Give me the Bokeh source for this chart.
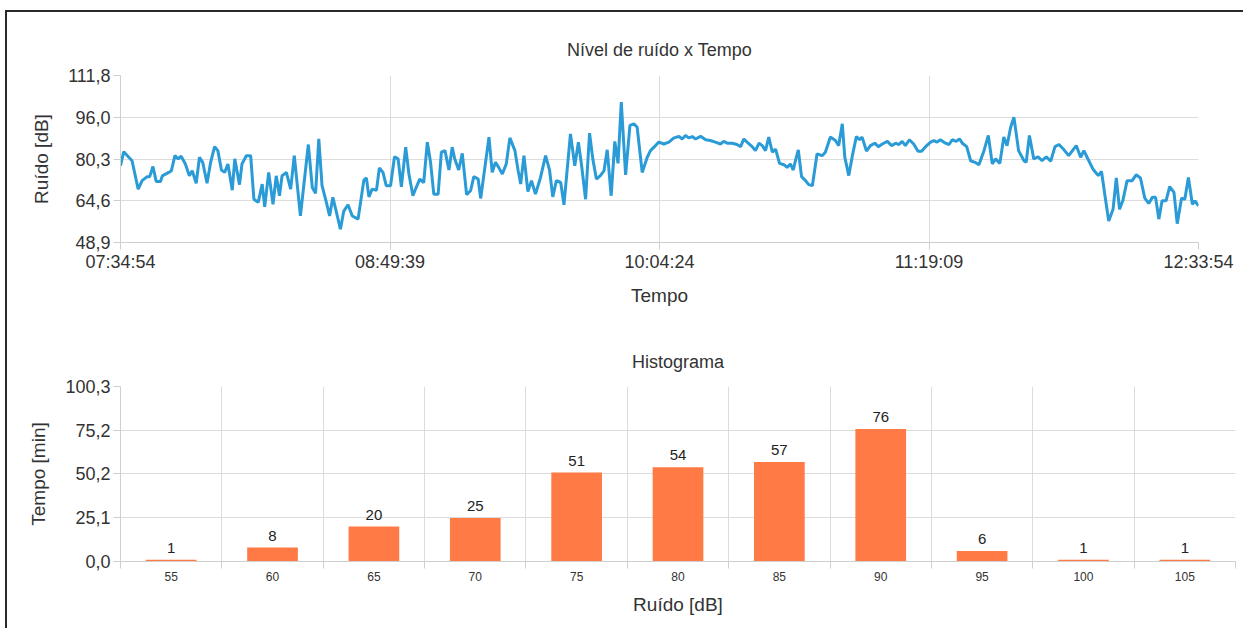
from bokeh.plotting import figure
from bokeh.layouts import column, row
from bokeh.models import FixedTicker, Range1d, ColumnDataSource
from bokeh.core.properties import value
from bokeh.embed import file_html
from bokeh.resources import INLINE

# ---------------- data ----------------
time_tick_minutes = [0, 74.75, 149.5, 224.25, 299]
time_tick_labels = ["07:34:54", "08:49:39", "10:04:24", "11:19:09", "12:33:54"]

elapsed_min = [
    0.0, 0.9, 2.3, 3.2, 4.9, 6.0, 7.4, 8.1, 9.0, 9.9, 11.1, 11.6, 13.4, 14.1, 15.1, 16.0, 16.8, 18.0,
    19.1, 19.9, 21.0, 21.9, 22.8, 24.0, 25.0, 26.1, 27.0, 28.0, 28.9, 29.8, 31.0, 31.7, 33.0, 33.7,
    34.9, 36.1, 37.0, 38.2, 39.3, 40.0, 41.1, 42.3, 43.2, 44.1, 44.8, 46.0, 47.2, 48.2,
    49.9, 52.1, 53.2, 54.1, 55.0, 55.9, 57.0, 58.0, 58.9, 59.8, 61.0, 61.9, 63.1, 64.3, 65.9, 67.5,
    68.2, 68.9, 69.8, 71.0, 71.8, 72.8, 73.7, 74.9, 76.0, 77.0, 77.9, 79.1, 80.0, 81.1, 82.0, 83.0,
    84.1, 85.1, 86.0, 86.9, 88.1, 89.0, 90.0, 91.1, 92.0, 92.7, 93.8, 94.8, 96.0, 97.1, 98.0, 99.2, 99.9,
    102.2, 103.1, 104.0, 104.9, 105.9, 107.0, 108.0, 109.4, 110.3, 111.0, 111.9, 113.0, 114.0, 115.1,
    116.5, 117.9, 119.0, 119.9, 120.9, 122.1, 123.0, 124.8, 126.0, 127.0, 127.9, 129.0, 130.1, 131.0,
    132.0, 133.1, 134.1, 135.0, 136.1, 137.1, 138.0, 138.9, 140.1, 141.3, 142.4, 143.3, 144.7, 146.1,
    147.0, 148.4,
    149.3, 150.7, 152.1, 153.5, 154.9, 155.8, 156.7, 157.6, 158.6, 159.5, 160.9, 162.3, 163.6, 165.0,
    166.4, 167.3, 168.3, 169.7, 171.0, 172.0, 172.9, 174.1, 175.2, 176.1, 177.1, 178.0, 178.9, 179.8,
    180.8, 181.7, 182.8, 184.0, 184.9, 185.8, 186.6, 187.2, 188.0, 188.9, 190.0, 190.9, 191.9, 193.2,
    194.6, 195.5, 196.9, 198.3,
    199.2, 200.2, 200.9, 202.0, 203.1, 204.1, 205.0, 205.7, 206.9, 208.0, 209.2, 210.2, 211.3, 212.7,
    213.9, 215.0, 215.9, 216.8, 217.7, 218.8, 220.0, 221.2, 222.2, 223.3, 224.7, 225.6, 226.5, 227.4,
    228.8, 229.8, 230.7, 231.8, 232.7, 233.5, 234.7, 235.8, 237.0, 238.1, 239.5, 240.7, 241.8, 242.7,
    243.9, 245.0, 245.9, 246.9, 247.8, 249.1,
    250.6, 251.2, 252.1, 253.3, 254.5, 255.6, 256.8, 258.0, 259.2, 260.3, 261.7, 263.0, 264.2, 265.1,
    266.3, 267.2, 268.1, 269.7, 271.2, 272.1, 273.0, 274.1, 275.3, 276.2, 277.1, 278.0, 279.2, 280.6,
    281.7, 282.9, 284.1, 285.2, 286.2, 287.1, 288.0, 288.9, 290.0, 291.0, 292.2, 293.1, 294.3, 295.2,
    296.2, 297.3, 298.0, 299.0,
]

noise_db = [
    77.8, 83.1, 81.0, 79.7, 69.0, 72.2, 73.7, 73.7, 77.5, 71.9, 71.9, 74.0, 75.3, 75.9, 81.6, 80.4, 81.4, 78.5,
    74.0, 75.9, 71.2, 81.0, 79.1, 71.2, 79.1, 85.0, 83.5, 76.2, 75.3, 78.5, 68.6, 80.4, 70.7, 78.5,
    81.6, 81.6, 65.2, 64.0, 70.9, 62.3, 75.3, 63.3, 74.0, 66.5, 74.0, 75.3, 69.0, 81.6,
    58.9, 85.8, 69.6, 67.4, 87.9, 70.3, 64.6, 58.9, 65.9, 60.8, 53.9, 60.6, 63.1, 58.9, 57.7, 72.4,
    73.2, 66.1, 69.0, 68.6, 77.0, 75.3, 70.3, 70.3, 81.2, 80.4, 69.9, 84.8, 74.7, 66.5, 69.6, 72.8,
    71.5, 86.7, 79.1, 67.1, 67.1, 82.9, 83.5, 76.2, 84.8, 80.4, 76.2, 82.5, 66.9, 68.4, 73.7, 72.8, 65.5,
    88.6, 75.3, 79.1, 77.2, 74.7, 78.5, 88.3, 83.5, 75.9, 70.9, 81.6, 68.1, 72.2, 67.1,
    73.4, 81.6, 76.2, 66.1, 72.2, 71.5, 63.1, 89.8, 77.8, 86.7, 77.8, 65.2, 90.1, 80.4,
    72.8, 74.1, 75.9, 83.8, 66.5, 87.0, 78.7, 101.8, 74.4, 93.0, 93.6, 92.3, 75.3, 81.0,
    83.5, 85.4,
    86.7, 86.0, 86.7, 88.3, 88.8, 87.9, 89.2, 88.3, 88.8, 87.9, 88.9, 87.6, 87.3, 86.7,
    86.0, 87.0, 86.3, 86.3, 85.8, 85.0, 87.9, 86.3, 85.0, 83.5, 86.3, 85.4, 83.5, 88.6,
    82.9, 84.1, 78.7, 78.2, 77.2, 78.5, 76.2, 79.7, 83.8, 73.7, 72.2, 70.7, 70.3, 82.3,
    81.6, 82.9, 88.6, 87.3,
    85.4, 93.6, 81.0, 74.1, 82.3, 88.8, 87.6, 88.6, 83.3, 85.4, 86.3, 85.0, 86.0, 87.0,
    85.4, 86.3, 85.8, 87.0, 85.4, 87.6, 86.0, 83.3, 83.3, 85.0, 86.7, 87.3, 86.7, 87.6,
    86.3, 85.8, 87.6, 87.0, 87.9, 86.3, 85.0, 79.7, 79.1, 78.2, 83.5, 89.2, 78.5, 80.4,
    78.7, 88.6, 85.4, 92.3, 96.1, 83.5,
    79.7, 79.1, 89.2, 80.4, 81.2, 79.7, 81.2, 79.5, 85.0, 85.8, 83.8, 81.6, 83.8, 85.4,
    81.0, 83.5, 81.0, 76.6, 74.1, 75.7, 67.1, 57.0, 61.4, 73.2, 61.4, 64.6, 72.2, 72.2,
    74.4, 73.2, 65.6, 63.6, 65.9, 65.9, 57.7, 64.6, 64.6, 69.9, 67.8, 56.0, 65.6, 65.2,
    73.4, 63.3, 64.6, 62.7,
]

noise_ticks = [48.9, 64.6, 80.3, 96.0, 111.8]

hist_bins = ["55", "60", "65", "70", "75", "80", "85", "90", "95", "100", "105"]
hist_minutes = [1, 8, 20, 25, 51, 54, 57, 76, 6, 1, 1]
hist_ticks = [0.0, 25.1, 50.2, 75.2, 100.3]

# ---------------- styling helpers ----------------
FONT = "Liberation Sans"
TXT = "#333333"
GRID = "#dcdcdc"
AXIS = "#cfcfcf"


def comma(v):
    return f"{v:.1f}".replace(".", ",")


def style_axes(p):
    for ax in (p.xaxis[0], p.yaxis[0]):
        ax.axis_line_color = AXIS
        ax.major_tick_line_color = AXIS
        ax.major_tick_out = 7
        ax.major_tick_in = 0
        ax.minor_tick_line_color = None
        ax.major_label_text_font = FONT
        ax.major_label_text_color = TXT
        ax.major_label_text_font_size = "18px"
        ax.axis_label_text_font = FONT
        ax.axis_label_text_color = TXT
        ax.axis_label_text_font_size = "19px"
        ax.axis_label_text_font_style = "normal"
    p.yaxis[0].major_label_standoff = 3
    p.yaxis[0].axis_label_standoff = 13
    p.xgrid.grid_line_color = GRID
    p.ygrid.grid_line_color = GRID
    p.outline_line_color = None
    p.title.align = "center"
    p.title.text_font = FONT
    p.title.text_font_style = "normal"
    p.title.text_font_size = "18px"
    p.title.text_color = TXT
    p.title.standoff = 32


# ---------------- top: line chart ----------------
p1 = figure(width=1236, height=306, output_backend="svg", toolbar_location=None,
            title="Nível de ruído x Tempo",
            x_range=Range1d(time_tick_minutes[0], time_tick_minutes[-1]),
            y_range=Range1d(noise_ticks[0], noise_ticks[-1]),
            min_border_left=113, min_border_right=45, min_border_top=63, min_border_bottom=76,
            x_axis_label="Tempo", y_axis_label="Ruído [dB]")
p1.line(elapsed_min, noise_db, line_color="#2a9bd6", line_width=3)
style_axes(p1)
p1.xaxis.ticker = FixedTicker(ticks=time_tick_minutes)
p1.xaxis.major_label_overrides = {t: l for t, l in zip(time_tick_minutes, time_tick_labels)}
p1.xaxis.major_label_standoff = 2
p1.xaxis.axis_label_standoff = 10
p1.yaxis.ticker = FixedTicker(ticks=noise_ticks)
p1.yaxis.major_label_overrides = {t: comma(t) for t in noise_ticks}

# ---------------- bottom: histogram ----------------
centers = [i + 0.5 for i in range(len(hist_bins))]
bounds = list(range(len(hist_bins) + 1))
src = ColumnDataSource(dict(x=centers, top=hist_minutes,
                            label=[str(v) for v in hist_minutes]))

p2 = figure(width=1236, height=310, output_backend="svg", toolbar_location=None,
            title="Histograma",
            x_range=Range1d(0, len(hist_bins)),
            y_range=Range1d(hist_ticks[0], hist_ticks[-1]),
            min_border_left=113, min_border_right=8, min_border_top=68, min_border_bottom=67,
            x_axis_label="Ruído [dB]", y_axis_label="Tempo [min]")
p2.vbar(x="x", top="top", bottom=0, width=0.5, source=src,
        fill_color="#ff7a45", line_color=None)
p2.text(x="x", y="top", text="label", source=src, text_align="center",
        text_baseline="bottom", y_offset=-7, text_font_size="15px",
        text_color="#222222", text_font=value(FONT))
style_axes(p2)
p2.title.standoff = 30
p2.xaxis.ticker = FixedTicker(ticks=centers, minor_ticks=bounds)
p2.xaxis.major_label_overrides = {c: b for c, b in zip(centers, hist_bins)}
p2.xaxis.major_tick_line_color = None
p2.xaxis.minor_tick_line_color = AXIS
p2.xaxis.minor_tick_out = 7
p2.xaxis.minor_tick_in = 0
p2.xaxis.major_label_text_font_size = "12px"
p2.xaxis.major_label_standoff = 3
p2.xaxis.axis_label_standoff = 10
p2.xgrid.ticker = FixedTicker(ticks=bounds)
p2.yaxis.ticker = FixedTicker(ticks=hist_ticks)
p2.yaxis.major_label_overrides = {t: comma(t) for t in hist_ticks}

layout = column(row(p1), row(p2), styles={"border-top": "2px solid #2a2a2a",
                                           "border-left": "2px solid #2a2a2a",
                                           "margin-left": "5px", "margin-top": "10px"})

open("out.html", "w").write(file_html(layout, INLINE))
